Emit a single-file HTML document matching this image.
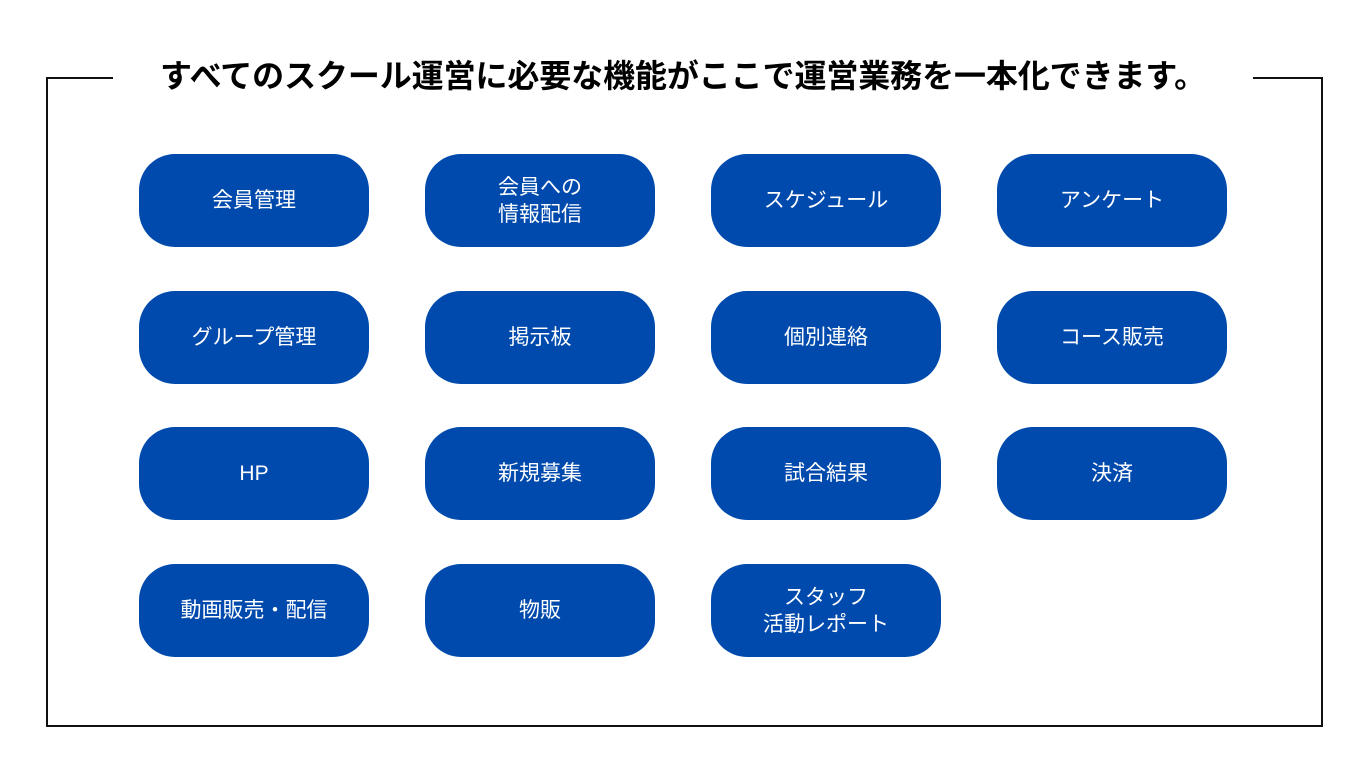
<!DOCTYPE html>
<html><head><meta charset="utf-8"><style>
body{margin:0;width:1366px;height:768px;background:#fff;position:relative;overflow:hidden;font-family:"Liberation Sans","Noto Sans CJK JP",sans-serif;}
.frame{position:absolute;left:46px;top:77px;width:1273px;height:646px;border:2px solid #111;}
.title{position:absolute;left:113px;width:1140px;top:54px;text-align:center;background:#fff;font-size:32px;font-weight:bold;color:#000;line-height:44px;letter-spacing:-0.1px;}
.b{position:absolute;width:230px;height:93px;border-radius:36px;background:#004aad;color:#fff;font-size:21px;line-height:27px;display:flex;align-items:center;justify-content:center;text-align:center;}
</style></head><body>
<div class="frame"></div>
<div class="title">すべてのスクール運営に必要な機能がここで運営業務を一本化できます。</div>
<div class="b" style="left:139px;top:154px">会員管理</div>
<div class="b" style="left:425px;top:154px">会員への<br>情報配信</div>
<div class="b" style="left:711px;top:154px">スケジュール</div>
<div class="b" style="left:997px;top:154px">アンケート</div>
<div class="b" style="left:139px;top:291px">グループ管理</div>
<div class="b" style="left:425px;top:291px">掲示板</div>
<div class="b" style="left:711px;top:291px">個別連絡</div>
<div class="b" style="left:997px;top:291px">コース販売</div>
<div class="b" style="left:139px;top:427px">HP</div>
<div class="b" style="left:425px;top:427px">新規募集</div>
<div class="b" style="left:711px;top:427px">試合結果</div>
<div class="b" style="left:997px;top:427px">決済</div>
<div class="b" style="left:139px;top:564px">動画販売・配信</div>
<div class="b" style="left:425px;top:564px">物販</div>
<div class="b" style="left:711px;top:564px">スタッフ<br>活動レポート</div>
</body></html>
